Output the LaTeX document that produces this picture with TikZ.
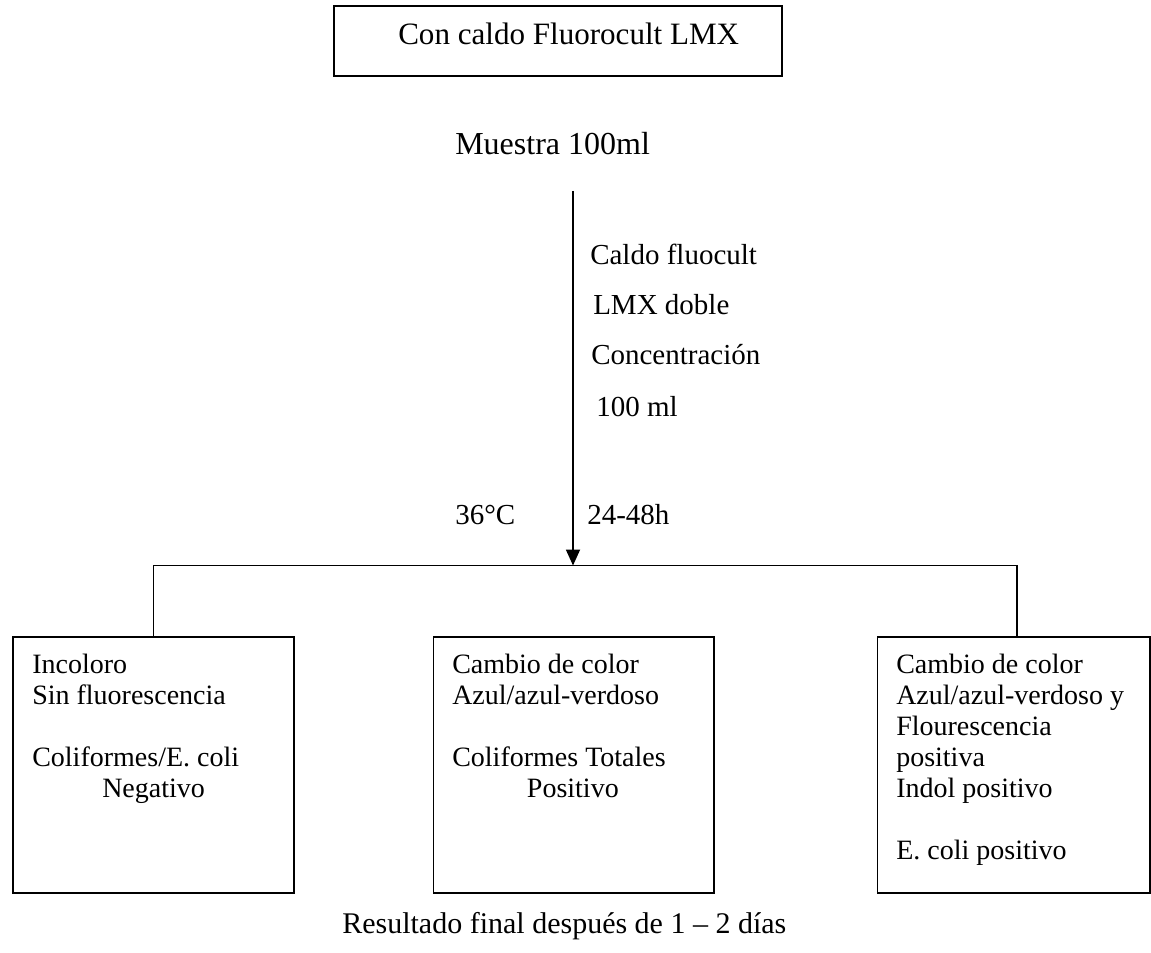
\documentclass[tikz,border=0pt]{standalone}
\usepackage{fontspec}
\setmainfont{Liberation Serif}
\usetikzlibrary{arrows.meta}
\begin{document}
\begin{tikzpicture}[x=0.75pt,y=-0.75pt,
  frame/.style={draw, line width=1.4pt, inner sep=0pt, anchor=north west},
  boxtext/.style={anchor=north west, align=left, inner sep=0pt, font=\fontsize{21}{23.25}\selectfont},
  lbl/.style={anchor=base west, inner sep=0pt, font=\fontsize{21.75}{24}\selectfont},
  conn/.style={line width=1.4pt}]
\useasboundingbox (0,0) rectangle (1151,952);
% title
\node[frame, minimum width=336pt, minimum height=52.5pt] (tbox) at (333,5) {};
\node[anchor=base west, inner sep=0pt, font=\fontsize{23.3}{26}\selectfont] (ttext) at (398,45) {Con caldo Fluorocult LMX};
% sample
\node[anchor=base west, inner sep=0pt, font=\fontsize{24}{27}\selectfont] (muestra) at (455,155) {Muestra 100ml};
\coordinate (arrtop) at (573,191);
\coordinate (junction) at (573,565.5);
\coordinate (hr) at (1017,565.5);
\draw[conn, -{Triangle[width=10.5pt,length=12pt]}] (arrtop) -- (junction);
% labels along arrow
\node[lbl] (c1) at (590,264) {Caldo fluocult};
\node[lbl] (c2) at (593,314) {LMX doble};
\node[lbl] (c3) at (591,364) {Concentración};
\node[lbl] (c4) at (596,416) {100 ml};
\node[lbl] (temp) at (455,524) {36°C};
\node[lbl] (time) at (587,524) {24-48h};
% result boxes
\node[frame, minimum width=210.75pt, minimum height=192pt] (lbox) at (12,636) {};
\node[frame, minimum width=210.4pt, minimum height=192pt] (mbox) at (432.5,636) {};
\node[frame, minimum width=204.4pt, minimum height=192pt] (rbox) at (876.5,636) {};
\draw[conn] (lbox.north) |- (junction) -- (hr) -- (hr |- rbox.north);
\node[boxtext] (ltext) at (32,654) {Incoloro\\Sin fluorescencia\\[23.25pt]Coliformes/E. coli\\\hspace*{52.5pt}Negativo};
\node[boxtext] (mtext) at (452,654) {Cambio de color\\Azul/azul-verdoso\\[23.25pt]Coliformes Totales\\\hspace*{56pt}Positivo};
\node[boxtext] (rtext) at (896,654) {Cambio de color\\Azul/azul-verdoso y\\Flourescencia\\positiva\\Indol positivo\\[23.25pt]E. coli positivo};
% footer
\node[anchor=base west, inner sep=0pt, font=\fontsize{22.5}{25}\selectfont] (final) at (342,933) {Resultado final después de 1 – 2 días};
\end{tikzpicture}
\end{document}
